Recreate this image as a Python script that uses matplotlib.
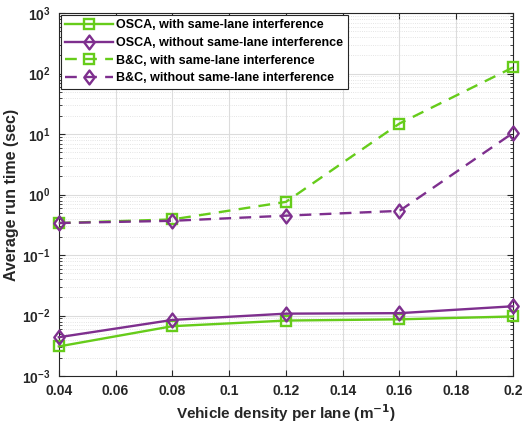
import matplotlib
matplotlib.use("Agg")
import matplotlib.pyplot as plt
from matplotlib.ticker import LogLocator, NullFormatter
from matplotlib.path import Path

plt.rcParams['font.family'] = ['Liberation Sans', 'DejaVu Sans']
plt.rcParams['font.weight'] = 'bold'
plt.rcParams['mathtext.default'] = 'bf'

density = [0.04, 0.08, 0.12, 0.16, 0.2]
osca_with = [0.0031, 0.0067, 0.0083, 0.0087, 0.0097]
osca_without = [0.0044, 0.0085, 0.0108, 0.0110, 0.0143]
bc_with = [0.34, 0.39, 0.76, 15.0, 127.0]
bc_without = [0.34, 0.37, 0.45, 0.54, 10.5]

labels = ["OSCA, with same-lane interference",
          "OSCA, without same-lane interference",
          "B&C, with same-lane interference",
          "B&C, without same-lane interference"]

green = '#66cc1a'
purple = '#7e2f8e'

diamond = Path([(0, 1), (0.75, 0), (0, -1), (-0.75, 0), (0, 1)],
               [Path.MOVETO, Path.LINETO, Path.LINETO, Path.LINETO, Path.CLOSEPOLY])

fig = plt.figure(figsize=(5.3, 4.26), dpi=100)
ax = fig.add_axes([0.111, 0.117, 0.857, 0.852])

base = dict(linewidth=1.7, markerfacecolor='none', markeredgewidth=1.7, clip_on=False, zorder=3)
ax.plot(density, osca_with, '-', marker='s', markersize=6.5, color=green, label=labels[0], **base)
ax.plot(density, osca_without, '-', marker=diamond, markersize=10, color=purple, label=labels[1], **base)
ax.plot(density, bc_with, '--', marker='s', markersize=6.5, color=green, label=labels[2], dashes=(5, 3.5), **base)
ax.plot(density, bc_without, '--', marker=diamond, markersize=10, color=purple, label=labels[3], dashes=(5, 3.5), **base)

ax.set_yscale('log')
ax.set_ylim(1e-3, 1e3)
ax.set_xlim(0.04, 0.2)
ax.set_xticks([0.04, 0.06, 0.08, 0.1, 0.12, 0.14, 0.16, 0.18, 0.2])
ax.set_xticklabels(['0.04', '0.06', '0.08', '0.1', '0.12', '0.14', '0.16', '0.18', '0.2'])
ax.yaxis.set_major_locator(LogLocator(base=10, numticks=10))
ax.yaxis.set_minor_locator(LogLocator(base=10, subs=range(2, 10), numticks=100))
ax.yaxis.set_minor_formatter(NullFormatter())

ax.grid(True, which='major', color='#dcdcdc', linewidth=0.8, linestyle='-')
ax.grid(True, which='minor', axis='y', color='#dcdcdc', linewidth=0.6, linestyle=':')
ax.set_axisbelow(True)

ax.tick_params(which='both', direction='in', top=True, right=True, labelsize=10, colors='#262626')
ax.tick_params(which='major', length=4, pad=6)
ax.tick_params(which='minor', length=2)
for s in ax.spines.values():
    s.set_color('#262626')
    s.set_linewidth(0.8)

ax.set_xlabel('Vehicle density per lane (m$^{-1}$)', fontsize=11, fontweight='bold', color='#262626', labelpad=3)
ax.set_ylabel('Average run time (sec)', fontsize=11.5, fontweight='bold', color='#262626', labelpad=2)

leg = ax.legend(loc='upper left', fontsize=9, frameon=True, fancybox=False,
                edgecolor='#262626', framealpha=1, borderpad=0.35, labelspacing=0.45,
                handlelength=3.8, handletextpad=0.3, borderaxespad=0.15)
leg.get_frame().set_linewidth(0.8)

fig.savefig('out.png', dpi=100)
